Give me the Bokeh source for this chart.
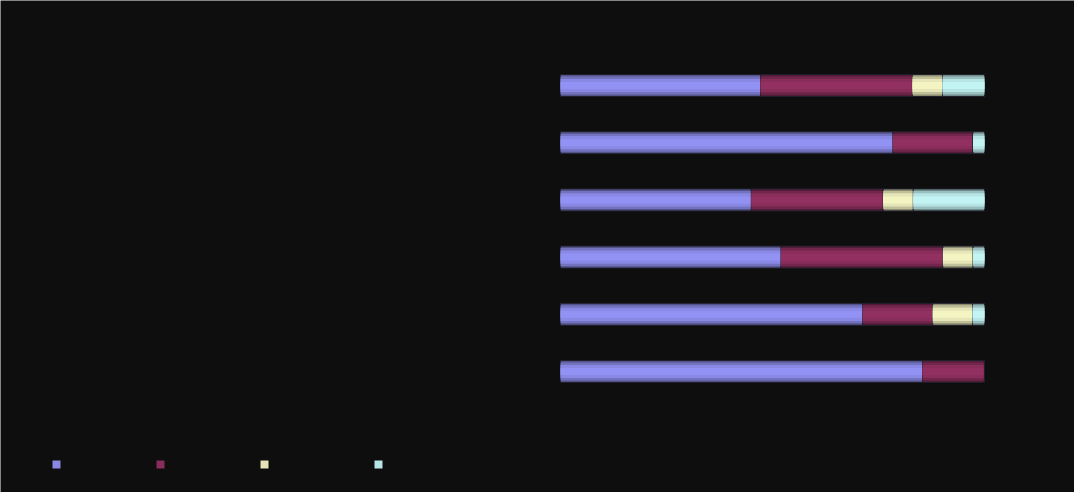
from bokeh.plotting import figure
from bokeh.models import Range1d, Legend, LegendItem, ColumnDataSource
from bokeh.core.properties import value
from bokeh.embed import file_html
from bokeh.resources import INLINE

# ---- data (percent share of each series per category, top row first) ----
categories = ["Row 1", "Row 2", "Row 3", "Row 4", "Row 5", "Row 6"]
series_names = ["Series 1", "Series 2", "Series 3", "Series 4"]
series_1 = [47.2, 78.4, 45.0, 52.0, 71.3, 85.4]
series_2 = [35.8, 18.9, 31.1, 38.2, 16.5, 14.6]
series_3 = [7.1, 0.0, 7.1, 7.1, 9.4, 0.0]
series_4 = [9.9, 2.7, 16.8, 2.7, 2.8, 0.0]
colors = ["#9999FF", "#993366", "#FFFFCC", "#CCFFFF"]

BG = "#0e0e0e"
W, H = 1074, 492

p = figure(width=W, height=H, output_backend="svg", toolbar_location=None,
           x_range=Range1d(-132.08, 121.23), y_range=Range1d(7.115, -1.486),
           min_border=0, background_fill_color=BG, border_fill_color=BG,
           outline_line_color=None)
p.xaxis.visible = False
p.yaxis.visible = False
p.grid.visible = False

ypos = list(range(len(categories)))
all_series = [series_1, series_2, series_3, series_4]


def shade(hexc, f):
    r, g, b = int(hexc[1:3], 16), int(hexc[3:5], 16), int(hexc[5:7], 16)
    return "#%02x%02x%02x" % (int(r * f), int(g * f), int(b * f))


left = [0.0] * len(categories)
renderers = []
bar_h = 0.385
for vals, col, name in zip(all_series, colors, series_names):
    right = [l + v for l, v in zip(left, vals)]
    src = ColumnDataSource(dict(y=ypos, left=left, right=right, cat=categories))
    p.hbar(y="y", left="left", right="right", height=bar_h, source=src,
           fill_color=shade(col, 0.55), line_color="#20202c", line_width=1)
    p.hbar(y="y", left="left", right="right", height=bar_h * 0.82, source=src,
           fill_color=shade(col, 0.75), line_color=None)
    mid = p.hbar(y="y", left="left", right="right", height=bar_h * 0.6, source=src,
                 fill_color=shade(col, 0.9), line_color=None)
    p.hbar(y="y", left="left", right="right", height=bar_h * 0.32, source=src,
           fill_color=shade(col, 0.96), line_color=None)
    renderers.append(mid)
    left = right

# legend: one item per series, squares only
legend_x = [51, 155, 259, 373]
for r, lx in zip(renderers, legend_x):
    lg = Legend(items=[LegendItem(label=value(""), renderers=[r])],
                location=(lx, 23), orientation="horizontal",
                glyph_width=10, glyph_height=10, label_height=10, label_width=0,
                label_standoff=0, padding=0, margin=0, spacing=0,
                background_fill_alpha=0, border_line_color=None,
                label_text_font_size="1px")
    p.add_layout(lg, "center")

open("out.html", "w").write(file_html(p, INLINE))
